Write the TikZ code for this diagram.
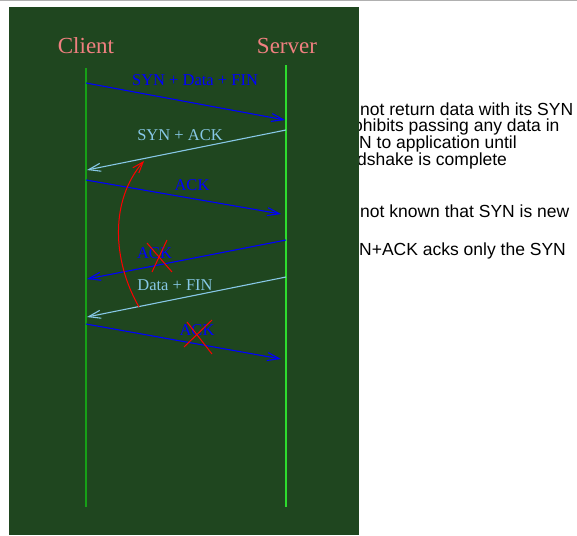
\documentclass[tikz,border=0pt]{standalone}
\usepackage{fontspec}
\setmainfont{Liberation Serif}
\newfontfamily\notefont{Liberation Sans}
\usetikzlibrary{arrows.meta}

\definecolor{panel}{RGB}{31,70,31}
\definecolor{clientline}{RGB}{22,160,22}
\definecolor{serverline}{RGB}{45,220,45}
\definecolor{msgblue}{RGB}{0,0,255}
\definecolor{msglight}{RGB}{135,200,230}
\definecolor{hostname}{RGB}{240,128,128}
\definecolor{toprule}{RGB}{176,176,176}

\tikzset{
  note/.style={anchor=base west, inner sep=0pt, font=\notefont\fontsize{17.5}{20}\selectfont, text=black},
  host/.style={anchor=base, inner sep=0pt, font=\fontsize{23}{26}\selectfont, text=hostname},
  lbl/.style={anchor=base, inner sep=0pt, font=\fontsize{16.5}{19}\selectfont},
  msg/.style={line width=1.1pt, -{Straight Barb[length=12pt,width=8pt]}},
  strike/.style={draw=red, line width=1pt},
}

\begin{document}
\begin{tikzpicture}[x=1pt, y=-1pt]
\useasboundingbox (0,0) rectangle (577,535);

% side notes, partly covered by the panel
\node[note] (n1) at (360,115.5) {not return data with its SYN};
\node[note] (n2) at (353,131) {ohibits passing any data in};
\node[note] (n3) at (359,148) {N to application until};
\node[note] (n4) at (357,165) {dshake is complete};
\node[note] (n5) at (360,217.5) {not known that SYN is new};
\node[note] (n6) at (359,255.5) {N+ACK acks only the SYN};

% panel and rule along the top
\fill[panel] (9,7) rectangle (359,535);
\draw[toprule, line width=1.5pt] (0,0.75) -- (577,0.75);

% hosts and lifelines
\node[host] (client) at (86,53.3) {Client};
\node[host] (server) at (287,53.3) {Server};
\coordinate (ctop) at (86,68);
\coordinate (cbot) at (86,507);
\coordinate (stop) at (286,65);
\coordinate (sbot) at (286,507);
\draw[clientline, line width=2pt] (ctop) -- (cbot);
\draw[serverline, line width=1.3pt] (stop) -- (sbot);

% message end points
\coordinate (a1) at (86,83);   \coordinate (b1) at (285,120);
\coordinate (a2) at (286,130); \coordinate (b2) at (87,170);
\coordinate (a3) at (86,180);  \coordinate (b3) at (281,214);
\coordinate (a4) at (286,240); \coordinate (b4) at (87,279);
\coordinate (a5) at (286,277); \coordinate (b5) at (87,317);
\coordinate (a6) at (86,324);  \coordinate (b6) at (281,359);

% messages
\draw[msg, msgblue] (a1) -- (b1);
\draw[msg, msglight] (a2) -- (b2);
\draw[msg, msgblue] (a3) -- (b3);
\draw[msg, msgblue] (a4) -- (b4);
\draw[msg, msglight] (a5) -- (b5);
\draw[msg, msgblue] (a6) -- (b6);

% message labels
\node[lbl, text=msgblue] (l1) at (195,85.5) {SYN + Data + FIN};
\node[lbl, text=msglight] (l2) at (180,140) {SYN + ACK};
\node[lbl, text=msgblue] (l3) at (192,190) {ACK};
\node[lbl, text=msgblue] (l4) at (154.5,258) {ACK};
\node[lbl, text=msglight] (l5) at (175,290) {Data + FIN};
\node[lbl, text=msgblue] (l6) at (197,335) {ACK};

% lost segments crossed out
\draw[strike] (147,243) -- (172,272);
\draw[strike] (167,240) -- (152,272);
\draw[strike] (187,322) -- (212,354);
\draw[strike] (212,320) -- (184,347);

% data released only once the handshake completes
\coordinate (rfrom) at (139,307);
\coordinate (rto) at (144,161);
\draw[red, line width=1pt, -{Straight Barb[length=11pt,width=8pt]}]
  (rfrom) .. controls (112,260) and (110,200) .. (rto);
\end{tikzpicture}
\end{document}
